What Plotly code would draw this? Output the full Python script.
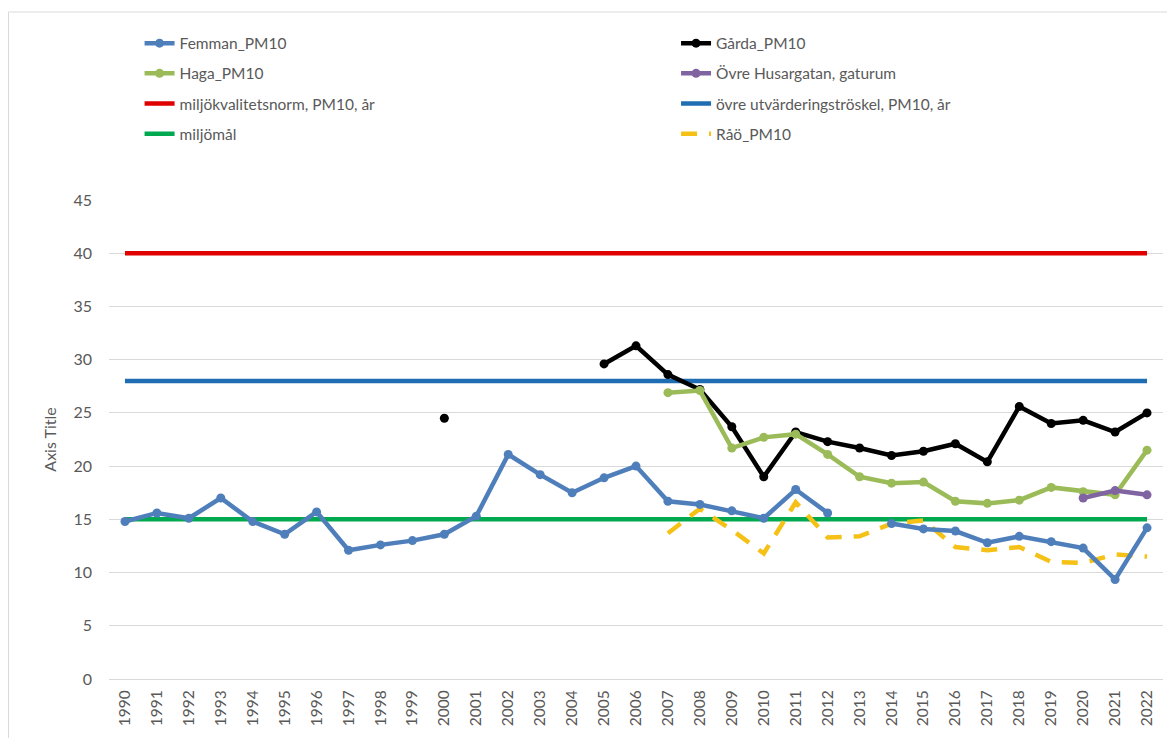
import plotly.graph_objects as go

years = list(range(1990, 2023))
N = None

femman = [14.8, 15.6, 15.1, 17.0, 14.8, 13.6, 15.7, 12.1, 12.6, 13.0, 13.6, 15.3,
          21.1, 19.2, 17.5, 18.9, 20.0, 16.7, 16.4, 15.8, 15.1, 17.8, 15.6, N,
          14.6, 14.1, 13.9, 12.8, 13.4, 12.9, 12.3, 9.35, 14.2]
garda = [N]*10 + [24.5, N, N, N, N, 29.6, 31.3, 28.6, 27.2, 23.7, 19.0, 23.2, 22.3, 21.7,
                  21.0, 21.4, 22.1, 20.4, 25.6, 24.0, 24.3, 23.2, 25.0]
haga = [N]*17 + [26.9, 27.1, 21.7, 22.7, 23.0, 21.1, 19.0, 18.4, 18.5, 16.7, 16.5, 16.8,
                 18.0, 17.6, 17.3, 21.5]
husar = [N]*30 + [17.0, 17.7, 17.3]
norm = [40]*33
troskel = [28]*33
miljomal = [15]*33
rao = [N]*17 + [13.7, 16.0, 14.0, 11.8, 16.6, 13.3, 13.4, 14.6, 14.9, 12.4, 12.1, 12.4,
                11.0, 10.9, 11.7, 11.5]

names = ["Femman_PM10", "Gårda_PM10", "Haga_PM10", "Övre Husargatan, gaturum",
         "miljökvalitetsnorm, PM10, år", "övre utvärderingströskel, PM10, år",
         "miljömål", "Råö_PM10"]

FONT = "Lato, 'Open Sans', sans-serif"
GREY = "#595959"

fig = go.Figure()

def add(y, name, color, legend, markers=True, dash=None, width=4.5):
    fig.add_trace(go.Scatter(
        x=[str(v) for v in years], y=y, name=name,
        mode="lines+markers" if markers else "lines",
        line=dict(color=color, width=width, dash=dash),
        marker=dict(size=9, color=color),
        legend=legend, legendgroup=name,
        connectgaps=False, hoverinfo="x+y+name"))

# draw order: reference lines first, then data
add(norm, names[4], "#E00000", "legend", markers=False)
add(troskel, names[5], "#1F6DB3", "legend2", markers=False)
add(miljomal, names[6], "#00A84F", "legend", markers=False)
add(rao, names[7], "#F5C116", "legend2", markers=False, dash="16px,12px")
add(femman, names[0], "#4F7FBB", "legend")
add(garda, names[1], "#000000", "legend2")
add(haga, names[2], "#9BBB59", "legend")
add(husar, names[3], "#8064A2", "legend2")

# legend order ranks
rank = {names[0]: 1, names[2]: 2, names[4]: 3, names[6]: 4,
        names[1]: 1, names[3]: 2, names[5]: 3, names[7]: 4}
for tr in fig.data:
    tr.legendrank = rank[tr.name]

legend_common = dict(orientation="v", yanchor="top", xanchor="left",
                     font=dict(family=FONT, size=15.5, color=GREY),
                     tracegroupgap=7, bgcolor="rgba(0,0,0,0)",
                     itemclick=False, itemdoubleclick=False)

fig.update_layout(
    width=1167, height=730,
    margin=dict(l=101, r=12, t=192, b=59),
    paper_bgcolor="white", plot_bgcolor="white",
    font=dict(family=FONT, color=GREY),
    legend=dict(x=0.029, y=1.362, **legend_common),
    legend2=dict(x=0.538, y=1.362, **legend_common),
    xaxis=dict(type="category", tickangle=-90, tickfont=dict(size=15.5, color=GREY),
               showgrid=False, showline=True, linecolor="#D9D9D9", linewidth=1,
               ticks="", zeroline=False, range=[-0.5, 32.5], ticklabelstandoff=4),
    yaxis=dict(range=[0, 45], dtick=5, tick0=0, showgrid=True, gridcolor="#D9D9D9",
               gridwidth=1, zeroline=False, showline=False, ticks="",
               tickfont=dict(size=16, color=GREY), ticklabelstandoff=16,
               title=dict(text="Axis Title", font=dict(size=16, color=GREY), standoff=12)),
    shapes=[dict(type="rect", xref="paper", yref="paper",
                 x0=0.5/1054 - 101/1054, x1=1.2, y0=-0.5, y1=(671-4)/479,
                 line=dict(color="#D9D9D9", width=1), fillcolor="rgba(0,0,0,0)",
                 layer="below")],
)

fig.write_html("out.html")
